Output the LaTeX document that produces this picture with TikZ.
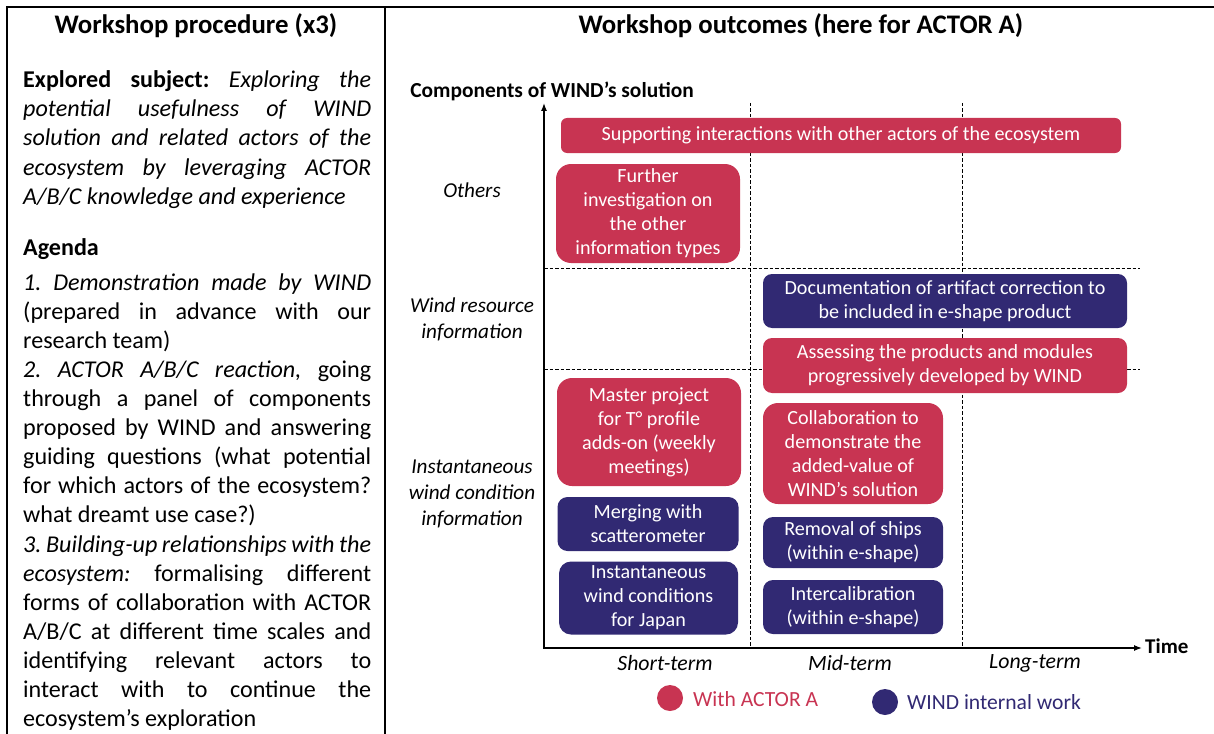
\documentclass[tikz,border=0pt]{standalone}
\usepackage{fontspec}
\setmainfont{Carlito}
\usetikzlibrary{arrows.meta}
\definecolor{wred}{RGB}{200,52,82}
\definecolor{wblue}{RGB}{49,41,115}
\frenchspacing
\begin{document}
\begin{tikzpicture}[x=1pt,y=-1pt,
  lt/.style={inner sep=0pt, anchor=base west, font=\fontsize{24.1}{29}\selectfont},
  ttl/.style={inner sep=0pt, anchor=base, font=\fontsize{26.8}{30}\selectfont\bfseries},
  box/.style={inner sep=0pt, text=white, align=center, font=\fontsize{20.1}{24}\selectfont},
  rbox/.style={box, fill=wred},
  bbox/.style={box, fill=wblue},
  rowlab/.style={align=center, font=\fontsize{21.2}{26}\selectfont\itshape, inner sep=0pt},
  collab/.style={font=\fontsize{21.8}{24}\selectfont\itshape, inner sep=0pt},
  gridline/.style={line width=0.9pt, dash pattern=on 3.5pt off 2pt},
  framel/.style={line width=2pt},
  axisl/.style={line width=1.3pt},
  legtxt/.style={font=\fontsize{21.6}{24}\selectfont, inner sep=0pt, anchor=west},
]
\useasboundingbox (0,0) rectangle (1214,733);

% frame
\coordinate (fbl) at (7,734);
\coordinate (ftl) at (7,7);
\coordinate (ftr) at (1215,7);
\coordinate (dtop) at (385,7);
\coordinate (dbot) at (385,734);
\draw[framel] (fbl) -- (ftl) -- (ftr);
\draw[framel] (dtop) -- (dbot);

% titles
\node[ttl] (tleft) at (196,34) {Workshop procedure (x3)};
\node[ttl] (tright) at (801,34) {Workshop outcomes (here for ACTOR A)};

% left text
\node[lt] (l1) at (23,88) {\makebox[348pt][s]{\textbf{Explored subject:} \textit{Exploring the}}};
\node[lt] (l2) at (23,117) {\makebox[348pt][s]{\textit{potential usefulness of WIND}}};
\node[lt] (l3) at (23,146) {\makebox[348pt][s]{\textit{solution and related actors of the}}};
\node[lt] (l4) at (23,175) {\makebox[348pt][s]{\textit{ecosystem by leveraging ACTOR}}};
\node[lt] (l5) at (23,204) {\textit{A/B/C knowledge and experience}};
\node[lt] (l6) at (23,255) {\textbf{Agenda}};
\node[lt] (l7) at (23,290) {\makebox[348pt][s]{\textit{1. Demonstration made by WIND}}};
\node[lt] (l8) at (23,319) {\makebox[348pt][s]{(prepared in advance with our}};
\node[lt] (l9) at (23,348) {research team)};
\node[lt] (l10) at (23,377) {\makebox[348pt][s]{\textit{2. ACTOR A/B/C reaction,} going}};
\node[lt] (l11) at (23,406) {\makebox[348pt][s]{through a panel of components}};
\node[lt] (l12) at (23,435) {\makebox[348pt][s]{proposed by WIND and answering}};
\node[lt] (l13) at (23,464) {\makebox[348pt][s]{guiding questions (what potential}};
\node[lt] (l14) at (23,493) {\makebox[348pt][s]{for which actors of the ecosystem?}};
\node[lt] (l15) at (23,522) {what dreamt use case?)};
\node[lt] (l16) at (23,552) {\makebox[348pt][s]{\textit{3. Building-up relationships with the}}};
\node[lt] (l17) at (23,581) {\makebox[348pt][s]{\textit{ecosystem:} formalising different}};
\node[lt] (l18) at (23,610) {\makebox[348pt][s]{forms of collaboration with ACTOR}};
\node[lt] (l19) at (23,639) {\makebox[348pt][s]{A/B/C at different time scales and}};
\node[lt] (l20) at (23,668) {\makebox[348pt][s]{identifying relevant actors to}};
\node[lt] (l21) at (23,697) {\makebox[348pt][s]{interact with to continue the}};
\node[lt] (l22) at (23,726) {ecosystem’s exploration};

% grid
\coordinate (v1t) at (750,103);
\coordinate (v1b) at (750,648);
\coordinate (v2t) at (962,103);
\coordinate (v2b) at (962,648);
\coordinate (h1l) at (544,268);
\coordinate (h1r) at (1140,268);
\coordinate (h2l) at (544,369);
\coordinate (h2r) at (1140,369);
\draw[gridline] (v1t) -- (v1b);
\draw[gridline] (v2t) -- (v2b);
\draw[gridline] (h1l) -- (h1r);
\draw[gridline] (h2l) -- (h2r);

% axes
\coordinate (ytop) at (544,103);
\coordinate (orig) at (544,648);
\coordinate (xend) at (1142,648);
\draw[axisl, {Latex[length=8pt,width=6pt]}-{Latex[length=8pt,width=6pt]}] (ytop) -- (orig) -- (xend);
\node[font=\fontsize{21.4}{24}\selectfont\bfseries, anchor=base, inner sep=0pt] (ylab) at (552,98) {Components of WIND’s solution};
\node[font=\fontsize{21}{24}\selectfont\bfseries, anchor=base west, inner sep=0pt] (time) at (1145,653) {Time};

% row labels
\node[rowlab] (rOth) at (472,190) {Others};
\node[rowlab] (rWR) at (472,319) {Wind resource\\information};
\node[rowlab] (rIW) at (472,494) {Instantaneous\\wind condition\\information};

% column labels
\node[collab] (cS) at (665,663) {Short-term};
\node[collab] (cM) at (850,663) {Mid-term};
\node[collab] (cL) at (1035,663) {Long-term};

% boxes
\node[rbox, minimum width=560pt, minimum height=35pt, rounded corners=6pt] (sup) at (841,135.5) {Supporting interactions with other actors of the ecosystem};
\node[rbox, minimum width=184pt, minimum height=99pt, rounded corners=15pt] (fur) at (648,213.5) {Further\\investigation on\\the other\\information types};
\node[bbox, minimum width=364pt, minimum height=54pt, rounded corners=9pt] (doc) at (945,301) {Documentation of artifact correction to\\be included in e-shape product};
\node[rbox, minimum width=364pt, minimum height=55pt, rounded corners=9pt] (ass) at (945,365.5) {Assessing the products and modules\\progressively developed by WIND};
\node[rbox, minimum width=184pt, minimum height=108pt, rounded corners=15pt] (mas) at (649,432) {Master project\\for T° profile\\adds-on (weekly\\meetings)};
\node[rbox, minimum width=180pt, minimum height=101pt, rounded corners=15pt] (col) at (853,453.5) {Collaboration to\\demonstrate the\\added-value of\\WIND’s solution};
\node[bbox, minimum width=181pt, minimum height=54pt, rounded corners=10pt] (mer) at (648,524) {Merging with\\scatterometer};
\node[bbox, minimum width=179pt, minimum height=73pt, rounded corners=12pt] (ins) at (648.5,598) {Instantaneous\\wind conditions\\for Japan};
\node[bbox, minimum width=180pt, minimum height=51pt, rounded corners=10pt] (rem) at (853,542.5) {Removal of ships\\(within e-shape)};
\node[bbox, minimum width=180pt, minimum height=54pt, rounded corners=10pt] (int) at (853,607) {Intercalibration\\(within e-shape)};

% legend
\node[circle, fill=wred, minimum size=26pt, inner sep=0pt] (lr) at (670,698) {};
\node[legtxt, text=wred] (lrt) at (693,699) {With ACTOR A};
\node[circle, fill=wblue, minimum size=26pt, inner sep=0pt] (lb) at (885,702) {};
\node[legtxt, text=wblue] (lbt) at (907,702) {WIND internal work};
\end{tikzpicture}
\end{document}
